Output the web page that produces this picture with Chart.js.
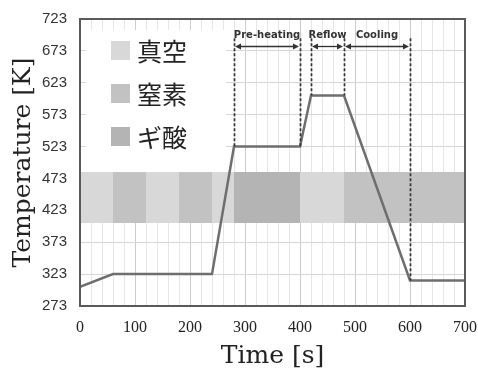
<!DOCTYPE html>
<html>
<head>
<meta charset="utf-8">
<script src="https://cdn.jsdelivr.net/npm/chart.js@4/dist/chart.umd.min.js"></script>
<style>
  body { margin: 0; background: #fff; }
  #wrap { width: 478px; height: 369px; }
</style>
</head>
<body>
<div id="wrap"><canvas id="profile" width="478" height="369"></canvas></div>
<script>
// Reflow temperature profile
const times = [0, 60, 240, 280, 400, 420, 480, 600, 700];
const temps = [303, 323, 323, 523, 523, 603, 603, 313, 313];

// Atmosphere inside the chamber along the time axis
const bandEdges = [0, 60, 120, 180, 240, 280, 400, 480, 700];
const bandGas = ['真空', '窒素', '真空', '窒素', '真空', 'ギ酸', '真空', '窒素'];
const bandLow = 403;
const bandHigh = 483;

const gasNames = ['真空', '窒素', 'ギ酸'];
const gasColors = ['#d8d8d8', '#c2c2c2', '#b4b4b4'];

// Process phases marked above the curve
const phaseNames = ['Pre-heating', 'Reflow', 'Cooling'];
const phaseStart = [280, 420, 480];
const phaseEnd = [400, 480, 600];

const xMin = 0, xMax = 700, xMinor = 20, xMajor = 100;
const yMin = 273, yMax = 723, yStep = 50;

const ink = '#333333';

const bandSets = bandGas.map((gas, i) => ({
    data: [{ x: bandEdges[i], y: bandHigh }, { x: bandEdges[i + 1], y: bandHigh }],
    borderColor: 'rgba(0,0,0,0)',
    borderWidth: 1,
    pointRadius: 0,
    backgroundColor: gasColors[gasNames.indexOf(gas)],
    fill: { value: bandLow },
    order: 2
}));

// White legend box with the gas swatches, top-left of the plot
const gasLegend = {
    id: 'gasLegend',
    afterDatasetsDraw(chart) {
        const { ctx, chartArea: a, scales } = chart;
        const boxBottom = scales.y.getPixelForValue(bandHigh);
        ctx.save();
        ctx.fillStyle = '#fff';
        ctx.fillRect(a.left + 6, a.top + 11, 140, boxBottom - a.top - 11);
        gasNames.forEach((name, i) => {
            const cy = a.top + 31 + i * 43;
            ctx.fillStyle = gasColors[i];
            ctx.fillRect(a.left + 31, cy - 9, 19, 19);
            ctx.fillStyle = '#222';
            ctx.font = '25px "Noto Sans CJK JP"';
            ctx.textBaseline = 'middle';
            ctx.textAlign = 'left';
            ctx.fillText(name, a.left + 57, cy + 1);
        });
        ctx.restore();
    }
};

// Dashed phase boundaries, double arrows and phase names
const phaseMarks = {
    id: 'phaseMarks',
    afterDatasetsDraw(chart) {
        const { ctx, scales: { x, y } } = chart;
        const topY = y.getPixelForValue(693);
        const arrowY = Math.round(y.getPixelForValue(681)) + 0.5;
        const textY = y.getPixelForValue(697);
        ctx.save();
        ctx.strokeStyle = ink;
        ctx.fillStyle = ink;
        ctx.lineWidth = 1.7;
        ctx.setLineDash([3, 2]);
        const marks = [...new Set(phaseStart.concat(phaseEnd))];
        marks.forEach(t => {
            const px = Math.round(x.getPixelForValue(t)) + 0.5;
            ctx.beginPath();
            ctx.moveTo(px, topY);
            ctx.lineTo(px, y.getPixelForValue(temps[times.indexOf(t)]));
            ctx.stroke();
        });
        ctx.setLineDash([]);
        ctx.lineWidth = 1.3;
        phaseNames.forEach((name, i) => {
            const x0 = x.getPixelForValue(phaseStart[i]) + 1;
            const x1 = x.getPixelForValue(phaseEnd[i]) - 1;
            ctx.beginPath();
            ctx.moveTo(x0 + 3, arrowY);
            ctx.lineTo(x1 - 3, arrowY);
            ctx.stroke();
            ctx.beginPath();
            ctx.moveTo(x0, arrowY);
            ctx.lineTo(x0 + 6, arrowY - 3);
            ctx.lineTo(x0 + 6, arrowY + 3);
            ctx.closePath();
            ctx.moveTo(x1, arrowY);
            ctx.lineTo(x1 - 6, arrowY - 3);
            ctx.lineTo(x1 - 6, arrowY + 3);
            ctx.closePath();
            ctx.fill();
            ctx.font = 'bold 10px "DejaVu Sans"';
            ctx.textAlign = 'center';
            ctx.textBaseline = 'middle';
            ctx.fillText(name, (x0 + x1) / 2, textY);
        });
        ctx.restore();
    }
};

// Frame around the plot area
const plotFrame = {
    id: 'plotFrame',
    afterDraw(chart) {
        const { ctx, chartArea: a } = chart;
        ctx.save();
        ctx.strokeStyle = '#5a5a5a';
        ctx.lineWidth = 2;
        ctx.strokeRect(a.left, a.top, a.right - a.left, a.bottom - a.top);
        ctx.restore();
    }
};

new Chart(document.getElementById('profile'), {
    type: 'line',
    data: {
        datasets: [{
            data: times.map((t, i) => ({ x: t, y: temps[i] })),
            borderColor: '#6e6e6e',
            borderWidth: 2.5,
            pointRadius: 0,
            tension: 0,
            fill: false,
            order: 0
        }, ...bandSets]
    },
    options: {
        responsive: false,
        animation: false,
        layout: { padding: { left: 0, top: 19, right: 13, bottom: 0 } },
        plugins: {
            legend: { display: false },
            tooltip: { enabled: false }
        },
        scales: {
            x: {
                type: 'linear',
                min: xMin,
                max: xMax,
                afterFit: s => {
                    s.height = 63;
                    s.paddingLeft = 0;
                    s.paddingRight = 0;
                },
                ticks: {
                    stepSize: xMinor,
                    autoSkip: false,
                    maxRotation: 0,
                    padding: 12,
                    color: '#222',
                    font: { family: '"Liberation Serif"', size: 16 },
                    callback: v => (v % xMajor === 0 ? String(v) : '')
                },
                grid: {
                    drawTicks: false,
                    color: c => (c.tick && c.tick.value % xMajor === 0 ? '#cccccc' : '#e6e6e6'),
                    lineWidth: 1
                },
                border: { display: false },
                title: {
                    display: true,
                    text: 'Time [s]',
                    color: '#222',
                    font: { family: '"DejaVu Serif"', size: 25, lineHeight: 1 },
                    padding: { top: 0, bottom: 0 }
                }
            },
            y: {
                min: yMin,
                max: yMax,
                afterFit: s => {
                    s.width = 80;
                    s.paddingTop = 0;
                    s.paddingBottom = 0;
                },
                ticks: {
                    stepSize: yStep,
                    padding: 13,
                    color: ink,
                    font: { family: '"Liberation Sans"', size: 15 }
                },
                grid: {
                    drawTicks: false,
                    color: '#d6d6d6',
                    lineWidth: 1
                },
                border: { display: false },
                title: {
                    display: true,
                    text: 'Temperature [K]',
                    color: '#222',
                    font: { family: '"DejaVu Serif"', size: 25, lineHeight: 1.2 },
                    padding: { top: 8, bottom: 0 }
                }
            }
        }
    },
    plugins: [gasLegend, phaseMarks, plotFrame]
});
</script>
</body>
</html>
